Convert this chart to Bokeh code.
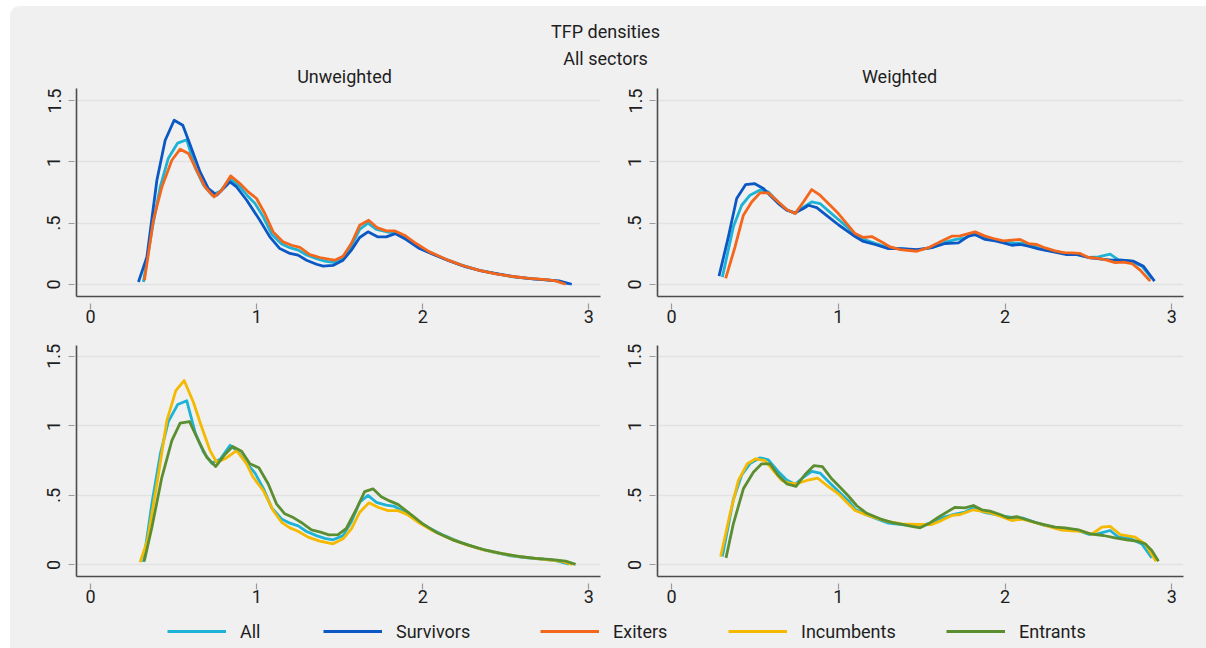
from bokeh.plotting import figure
from bokeh.layouts import column, row
from bokeh.models import Range1d, FixedTicker, Label, Legend, LegendItem
from bokeh.embed import file_html
from bokeh.resources import INLINE

# ---------------------------------------------------------------------------
# Kernel density estimates of log TFP (x = TFP, y = density)
# ---------------------------------------------------------------------------

# Unweighted, all firms
uw_all_x = [0.318, 0.37, 0.42, 0.468, 0.524, 0.579, 0.63, 0.68, 0.73, 0.78, 0.84, 0.89,
            0.94, 0.99, 1.04, 1.09, 1.15, 1.20, 1.25, 1.30, 1.36, 1.41, 1.46, 1.52, 1.57,
            1.62, 1.67, 1.72, 1.78, 1.83, 1.89, 1.95, 2.03, 2.13, 2.23, 2.33, 2.43, 2.53,
            2.63, 2.73, 2.80, 2.88]
uw_all_y = [0.02, 0.45, 0.80, 1.03, 1.153, 1.18, 0.95, 0.81, 0.73, 0.76, 0.86, 0.81,
            0.73, 0.66, 0.55, 0.41, 0.33, 0.30, 0.28, 0.24, 0.21, 0.19, 0.18, 0.21, 0.31,
            0.45, 0.50, 0.45, 0.43, 0.42, 0.38, 0.33, 0.27, 0.21, 0.16, 0.12, 0.09, 0.065,
            0.05, 0.04, 0.03, 0.005]

# Unweighted, survivors
uw_surv_x = [0.288, 0.339, 0.399, 0.449, 0.503, 0.555, 0.593, 0.659, 0.709, 0.759, 0.839,
             0.879, 0.94, 1.019, 1.079, 1.139, 1.20, 1.249, 1.30, 1.36, 1.40, 1.459, 1.52,
             1.57, 1.62, 1.67, 1.73, 1.78, 1.834, 1.90, 1.98, 2.06, 2.16, 2.26, 2.36, 2.46,
             2.56, 2.66, 2.76, 2.82, 2.897]
uw_surv_y = [0.02, 0.225, 0.85, 1.176, 1.339, 1.298, 1.162, 0.918, 0.782, 0.728, 0.836,
             0.795, 0.687, 0.524, 0.388, 0.293, 0.253, 0.239, 0.198, 0.165, 0.149, 0.155,
             0.198, 0.28, 0.383, 0.429, 0.388, 0.388, 0.415, 0.367, 0.293, 0.247, 0.192,
             0.143, 0.108, 0.084, 0.062, 0.046, 0.035, 0.029, 0.002]

# Unweighted, exiters
uw_exit_x = [0.324, 0.378, 0.429, 0.489, 0.539, 0.589, 0.639, 0.689, 0.743, 0.789, 0.843,
             0.899, 0.949, 0.999, 1.049, 1.099, 1.159, 1.21, 1.26, 1.32, 1.38, 1.44, 1.47,
             1.52, 1.57, 1.62, 1.674, 1.724, 1.78, 1.83, 1.89, 1.96, 2.04, 2.14, 2.24, 2.34,
             2.44, 2.54, 2.64, 2.74, 2.80, 2.86]
uw_exit_y = [0.035, 0.524, 0.795, 1.013, 1.103, 1.068, 0.931, 0.795, 0.714, 0.768, 0.885,
             0.823, 0.755, 0.701, 0.579, 0.429, 0.347, 0.32, 0.303, 0.244, 0.22, 0.204,
             0.198, 0.231, 0.334, 0.483, 0.524, 0.464, 0.437, 0.437, 0.402, 0.334, 0.266,
             0.205, 0.155, 0.115, 0.087, 0.065, 0.05, 0.04, 0.03, 0.002]

# Unweighted, incumbents
uw_inc_x = [0.298, 0.342, 0.409, 0.459, 0.513, 0.563, 0.619, 0.669, 0.719, 0.759, 0.809,
            0.879, 0.939, 0.979, 1.039, 1.099, 1.15, 1.20, 1.249, 1.309, 1.38, 1.46, 1.52,
            1.57, 1.62, 1.676, 1.73, 1.79, 1.85, 1.91, 1.98, 2.06, 2.16, 2.26, 2.36, 2.46,
            2.56, 2.66, 2.76, 2.84, 2.90]
uw_inc_y = [0.019, 0.175, 0.655, 1.038, 1.254, 1.326, 1.17, 0.99, 0.822, 0.738, 0.763,
            0.822, 0.727, 0.63, 0.535, 0.391, 0.306, 0.266, 0.242, 0.199, 0.17, 0.151,
            0.187, 0.259, 0.378, 0.446, 0.414, 0.39, 0.39, 0.36, 0.30, 0.245, 0.19, 0.145,
            0.11, 0.085, 0.063, 0.048, 0.036, 0.025, 0.003]

# Unweighted, entrants
uw_ent_x = [0.323, 0.369, 0.429, 0.489, 0.539, 0.595, 0.649, 0.699, 0.753, 0.803, 0.855,
            0.909, 0.959, 1.013, 1.069, 1.119, 1.169, 1.223, 1.276, 1.33, 1.384, 1.435,
            1.49, 1.54, 1.596, 1.65, 1.70, 1.75, 1.80, 1.85, 1.92, 2.0, 2.08, 2.18, 2.28,
            2.38, 2.48, 2.58, 2.68, 2.78, 2.86, 2.92]
uw_ent_y = [0.026, 0.27, 0.63, 0.894, 1.019, 1.031, 0.894, 0.774, 0.707, 0.786, 0.851,
            0.817, 0.727, 0.698, 0.583, 0.439, 0.367, 0.338, 0.299, 0.252, 0.235, 0.216,
            0.218, 0.263, 0.391, 0.527, 0.547, 0.49, 0.46, 0.435, 0.37, 0.295, 0.235, 0.18,
            0.14, 0.105, 0.08, 0.06, 0.047, 0.037, 0.027, 0.003]

# Weighted, all firms
w_all_x = [0.304, 0.37, 0.42, 0.47, 0.53, 0.58, 0.64, 0.69, 0.74, 0.79, 0.84, 0.89, 0.94,
           1.0, 1.06, 1.10, 1.16, 1.22, 1.30, 1.38, 1.47, 1.56, 1.64, 1.70, 1.76, 1.81,
           1.87, 1.93, 1.99, 2.05, 2.11, 2.17, 2.23, 2.30, 2.36, 2.43, 2.50, 2.56, 2.63,
           2.68, 2.75, 2.82, 2.88]
w_all_y = [0.06, 0.47, 0.646, 0.728, 0.77, 0.755, 0.67, 0.61, 0.58, 0.63, 0.673, 0.66, 0.60,
           0.53, 0.46, 0.40, 0.365, 0.335, 0.30, 0.29, 0.28, 0.30, 0.345, 0.365, 0.38, 0.41,
           0.38, 0.365, 0.35, 0.34, 0.335, 0.31, 0.285, 0.27, 0.255, 0.25, 0.22, 0.225,
           0.247, 0.20, 0.19, 0.15, 0.05]

# Weighted, survivors
w_surv_x = [0.284, 0.34, 0.39, 0.444, 0.496, 0.55, 0.60, 0.64, 0.69, 0.74, 0.79, 0.82, 0.87,
            0.94, 1.0, 1.06, 1.10, 1.15, 1.22, 1.30, 1.38, 1.47, 1.56, 1.64, 1.72, 1.78,
            1.82, 1.88, 1.94, 1.99, 2.04, 2.09, 2.14, 2.20, 2.26, 2.32, 2.37, 2.43, 2.50,
            2.58, 2.64, 2.70, 2.77, 2.83, 2.896]
w_surv_y = [0.068, 0.388, 0.701, 0.815, 0.823, 0.782, 0.714, 0.66, 0.605, 0.584, 0.619,
            0.646, 0.627, 0.551, 0.487, 0.429, 0.391, 0.351, 0.326, 0.293, 0.293, 0.285,
            0.30, 0.334, 0.339, 0.394, 0.407, 0.367, 0.355, 0.339, 0.32, 0.326, 0.312, 0.29,
            0.274, 0.258, 0.244, 0.244, 0.22, 0.206, 0.198, 0.198, 0.19, 0.149, 0.027]

# Weighted, exiters
w_exit_x = [0.324, 0.38, 0.43, 0.48, 0.53, 0.58, 0.64, 0.69, 0.74, 0.79, 0.84, 0.89, 0.94,
            1.0, 1.05, 1.10, 1.15, 1.20, 1.26, 1.31, 1.37, 1.47, 1.54, 1.62, 1.68, 1.73,
            1.78, 1.82, 1.88, 1.93, 1.99, 2.04, 2.09, 2.14, 2.19, 2.24, 2.30, 2.35, 2.40,
            2.45, 2.50, 2.56, 2.61, 2.66, 2.71, 2.76, 2.81, 2.87]
w_exit_y = [0.049, 0.306, 0.565, 0.673, 0.747, 0.747, 0.673, 0.611, 0.578, 0.673, 0.774,
            0.728, 0.66, 0.578, 0.497, 0.415, 0.383, 0.391, 0.347, 0.306, 0.285, 0.271,
            0.30, 0.355, 0.394, 0.396, 0.415, 0.429, 0.394, 0.375, 0.355, 0.361, 0.367,
            0.334, 0.326, 0.298, 0.274, 0.26, 0.258, 0.253, 0.22, 0.212, 0.198, 0.179,
            0.182, 0.171, 0.117, 0.027]

# Weighted, incumbents
w_inc_x = [0.294, 0.35, 0.40, 0.454, 0.504, 0.56, 0.61, 0.66, 0.71, 0.75, 0.81, 0.876,
           0.94, 1.0, 1.05, 1.10, 1.16, 1.22, 1.30, 1.38, 1.48, 1.56, 1.62, 1.68, 1.73,
           1.81, 1.90, 1.97, 2.04, 2.10, 2.16, 2.22, 2.28, 2.34, 2.40, 2.46, 2.52, 2.58,
           2.63, 2.69, 2.78, 2.84, 2.905]
w_inc_y = [0.06, 0.367, 0.607, 0.727, 0.763, 0.75, 0.678, 0.607, 0.587, 0.583, 0.607,
           0.623, 0.563, 0.511, 0.45, 0.391, 0.362, 0.34, 0.31, 0.295, 0.29, 0.29, 0.32,
           0.355, 0.362, 0.396, 0.378, 0.35, 0.319, 0.328, 0.31, 0.29, 0.27, 0.25, 0.245,
           0.24, 0.22, 0.271, 0.276, 0.218, 0.199, 0.151, 0.026]

# Weighted, entrants
w_ent_x = [0.326, 0.37, 0.43, 0.49, 0.54, 0.59, 0.64, 0.69, 0.746, 0.80, 0.854, 0.904,
           0.96, 1.01, 1.06, 1.11, 1.17, 1.25, 1.32, 1.39, 1.44, 1.49, 1.54, 1.60, 1.66,
           1.70, 1.76, 1.81, 1.86, 1.91, 1.97, 2.02, 2.07, 2.12, 2.18, 2.24, 2.30, 2.36,
           2.44, 2.51, 2.59, 2.66, 2.73, 2.80, 2.84, 2.88, 2.92]
w_ent_y = [0.05, 0.295, 0.547, 0.666, 0.727, 0.727, 0.642, 0.583, 0.565, 0.65, 0.714,
           0.707, 0.619, 0.558, 0.495, 0.425, 0.371, 0.331, 0.306, 0.29, 0.276, 0.266,
           0.295, 0.342, 0.386, 0.414, 0.41, 0.427, 0.396, 0.386, 0.362, 0.338, 0.347,
           0.328, 0.306, 0.288, 0.271, 0.266, 0.252, 0.223, 0.211, 0.194, 0.18, 0.168,
           0.151, 0.103, 0.026]

series_names = ["All", "Survivors", "Exiters", "Incumbents", "Entrants"]
x_ticks = [0, 1, 2, 3]
y_ticks = [0, 0.5, 1, 1.5]
y_tick_labels = ["0", ".5", "1", "1.5"]
title_lines = ["TFP densities", "All sectors"]
panel_titles = ["Unweighted", "Weighted"]

# ---------------------------------------------------------------------------
# Styling
# ---------------------------------------------------------------------------
FONT = "Roboto"
BG = "#f0f0f0"
GRID = "#e2e2e2"
TEXT = "#1e1e1e"
COLORS = {
    "All": "#1cb3d6",
    "Survivors": "#0b57c4",
    "Exiters": "#f4661b",
    "Incumbents": "#f5b902",
    "Entrants": "#5b8e30",
}
LINE_W = 2.8
FS = "18px"


def style_fig(p):
    p.background_fill_color = BG
    p.border_fill_color = BG
    p.outline_line_color = None
    p.toolbar.logo = None


def panel(frame_w, frame_h, b_left, b_right, b_top, b_bottom, y_start, y_end):
    p = figure(frame_width=frame_w, frame_height=frame_h,
               min_border_left=b_left, min_border_right=b_right,
               min_border_top=b_top, min_border_bottom=b_bottom,
               x_range=Range1d(-0.085, 3.07), y_range=Range1d(y_start, y_end),
               output_backend="svg", toolbar_location=None)
    style_fig(p)
    p.xgrid.visible = False
    p.ygrid.ticker = FixedTicker(ticks=y_ticks)
    p.ygrid.grid_line_color = GRID
    p.ygrid.grid_line_width = 1.5

    xa = p.xaxis[0]
    xa.ticker = FixedTicker(ticks=x_ticks)
    xa.major_tick_in = -7
    xa.major_tick_out = 13
    xa.major_label_standoff = 0

    ya = p.yaxis[0]
    ya.ticker = FixedTicker(ticks=y_ticks)
    ya.major_label_overrides = {float(t): s for t, s in zip(y_ticks, y_tick_labels)}
    ya.major_label_orientation = "vertical"
    ya.major_tick_in = -2
    ya.major_tick_out = 8
    ya.major_label_standoff = 8

    for ax in (xa, ya):
        ax.axis_line_color = "#4d4d4d"
        ax.axis_line_width = 1.6
        ax.major_tick_line_color = "#9a9a9a"
        ax.major_tick_line_width = 1.2
        ax.minor_tick_line_color = None
        ax.major_label_text_font = FONT
        ax.major_label_text_font_size = FS
        ax.major_label_text_color = TEXT
    return p


def draw(p, xs, ys, name):
    return p.line(xs, ys, line_color=COLORS[name], line_width=LINE_W, line_join="round")


# Header with figure title and panel titles
hdr = figure(width=1196, height=82, x_range=Range1d(0, 1196), y_range=Range1d(82, 0),
             output_backend="svg", toolbar_location=None, min_border=0)
style_fig(hdr)
hdr.axis.visible = False
hdr.grid.visible = False
for txt, (lx, ly) in zip(title_lines + panel_titles,
                         [(595, 25), (595, 52), (334, 70), (889, 70)]):
    hdr.add_layout(Label(x=lx, y=ly, text=txt, text_align="center", text_baseline="middle",
                         text_font=FONT, text_font_size=FS, text_color=TEXT))

# Four density panels
tl = panel(524, 208, 66, 15, 0, 40, -0.098, 1.598)
tr = panel(526, 208, 42, 23, 0, 40, -0.098, 1.598)
bl = panel(524, 231, 66, 15, 9, 40, -0.084, 1.578)
br = panel(526, 231, 42, 23, 9, 40, -0.084, 1.578)

draw(tl, uw_all_x, uw_all_y, "All")
draw(tl, uw_surv_x, uw_surv_y, "Survivors")
draw(tl, uw_exit_x, uw_exit_y, "Exiters")

draw(tr, w_all_x, w_all_y, "All")
draw(tr, w_surv_x, w_surv_y, "Survivors")
draw(tr, w_exit_x, w_exit_y, "Exiters")

draw(bl, uw_all_x, uw_all_y, "All")
draw(bl, uw_inc_x, uw_inc_y, "Incumbents")
draw(bl, uw_ent_x, uw_ent_y, "Entrants")

draw(br, w_all_x, w_all_y, "All")
draw(br, w_inc_x, w_inc_y, "Incumbents")
draw(br, w_ent_x, w_ent_y, "Entrants")

# Shared legend strip; key lines sit outside the visible range so only the legend shows them
leg = figure(width=1196, height=32, x_range=Range1d(0, 1), y_range=Range1d(0, 1),
             output_backend="svg", toolbar_location=None, min_border=0)
style_fig(leg)
leg.axis.visible = False
leg.grid.visible = False
key_x = [157, 313, 530, 718, 936]
for name, kx in zip(series_names, key_x):
    r = leg.line([-5, -4], [-5, -4], line_color=COLORS[name], line_width=LINE_W)
    lg = Legend(items=[LegendItem(label=name, renderers=[r])], location=(kx, 5),
                orientation="horizontal", padding=0, margin=0, spacing=0,
                glyph_width=59, glyph_height=24, label_height=24, label_standoff=14,
                label_text_font=FONT, label_text_font_size=FS,
                label_text_color=TEXT, label_text_baseline="middle",
                border_line_color=None, background_fill_alpha=0)
    leg.add_layout(lg)

layout = column(hdr, row(tl, tr), row(bl, br), leg, margin=(6, 0, 0, 10),
                styles={"border-top-left-radius": "10px", "overflow": "hidden",
                        "background-color": BG})

open("out.html", "w").write(file_html(layout, INLINE, title="TFP densities"))
